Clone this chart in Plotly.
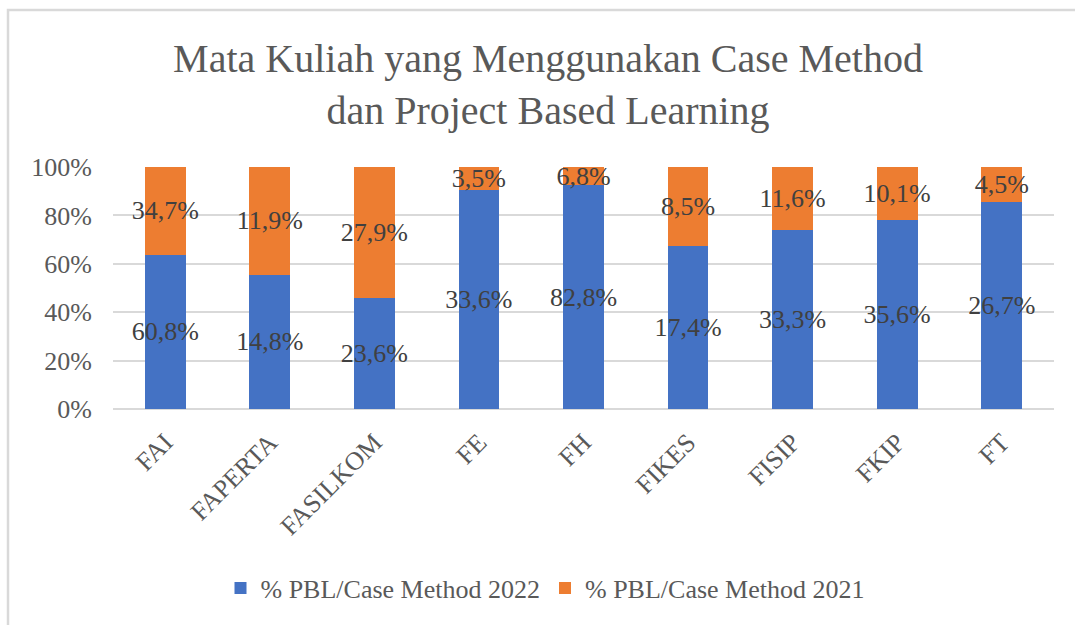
import plotly.graph_objects as go

# Faculty codes and the share of courses using PBL / Case Method
faculties = ["FAI", "FAPERTA", "FASILKOM", "FE", "FH", "FIKES", "FISIP", "FKIP", "FT"]
pbl_2022 = [60.8, 14.8, 23.6, 33.6, 82.8, 17.4, 33.3, 35.6, 26.7]
pbl_2021 = [34.7, 11.9, 27.9, 3.5, 6.8, 8.5, 11.6, 10.1, 4.5]
y_ticks = [0, 20, 40, 60, 80, 100]
y_tick_labels = ["0%", "20%", "40%", "60%", "80%", "100%"]

W, H = 1075, 625
L, R, T, B = 113, 21, 167, 216

FONT = "Liberation Serif"
BLUE = "#4472C4"
ORANGE = "#ED7D31"
GRID = "#D9D9D9"
TXT = "#595959"


def fmt(v):
    return f"{v:.1f}%".replace(".", ",")


fig = go.Figure()
for name, vals, col in [
    ("% PBL/Case Method 2022", pbl_2022, BLUE),
    ("% PBL/Case Method 2021", pbl_2021, ORANGE),
]:
    fig.add_trace(go.Bar(
        x=faculties, y=vals, name=name,
        marker=dict(color=col, line=dict(width=0)),
        text=[fmt(v) for v in vals],
        textposition="inside", insidetextanchor="middle",
        constraintext="none", textangle=0,
        textfont=dict(family=FONT, size=26, color="#404040"),
    ))

# outer chart frame (top and left edges visible)
px2x = lambda px: (px - L) / (W - L - R)
px2y = lambda py: (H - B - py) / (H - T - B)

fig.update_layout(
    width=W, height=H,
    barmode="stack", barnorm="percent", bargap=0.61,
    margin=dict(l=L, r=R, t=T, b=B),
    paper_bgcolor="white", plot_bgcolor="white",
    font=dict(family=FONT, color=TXT),
    title=dict(
        text="Mata Kuliah yang Menggunakan Case Method<br>dan Project Based Learning",
        x=548 / W, xanchor="center", xref="container",
        y=1 - 72 / H, yanchor="middle", yref="container",
        font=dict(family=FONT, size=40, color=TXT),
    ),
    xaxis=dict(
        tickangle=-45, showgrid=False, showline=False, ticks="",
        tickfont=dict(family=FONT, size=26, color=TXT),
        ticklabelstandoff=12,
    ),
    yaxis=dict(
        range=[0, 100], tickvals=y_ticks, ticktext=y_tick_labels,
        showgrid=True, gridcolor=GRID, gridwidth=2,
        zeroline=True, zerolinecolor=GRID, zerolinewidth=2,
        showline=False, ticks="",
        tickfont=dict(family=FONT, size=26, color=TXT),
        ticklabelstandoff=20,
    ),
    legend=dict(
        orientation="h", x=545 / W, xanchor="center", xref="container",
        y=1 - 588 / H, yanchor="middle", yref="container",
        font=dict(family=FONT, size=26, color=TXT),
        traceorder="normal",
    ),
    showlegend=True,
    shapes=[dict(
        type="rect", xref="paper", yref="paper",
        x0=px2x(8), x1=px2x(1090), y0=px2y(640), y1=px2y(10),
        line=dict(color=GRID, width=2.5), fillcolor="rgba(0,0,0,0)", layer="below",
    )],
)

fig.write_html("out.html")
